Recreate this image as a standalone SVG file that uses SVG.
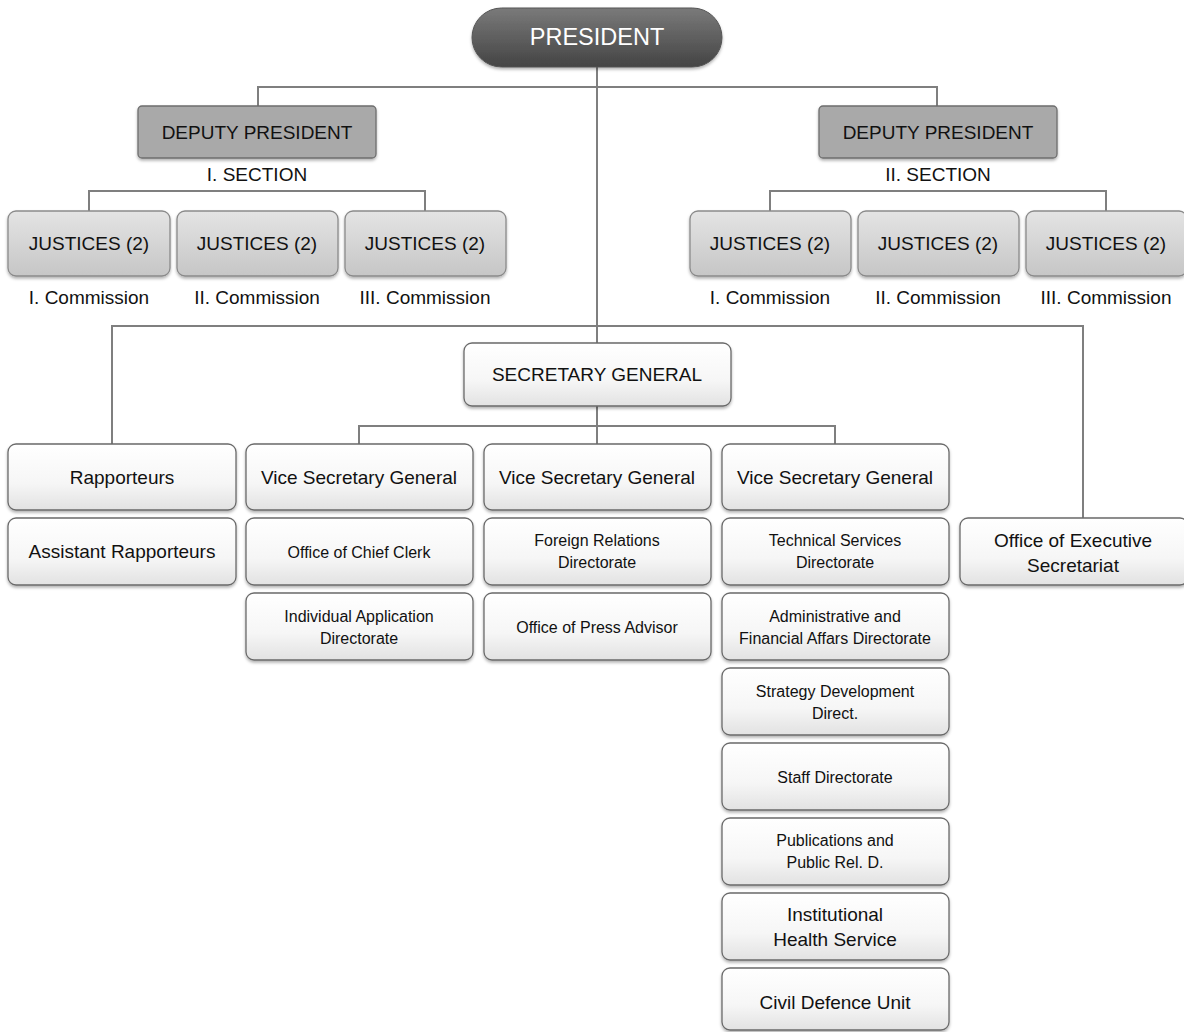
<svg xmlns="http://www.w3.org/2000/svg" width="1184" height="1032" viewBox="0 0 1184 1032">
<defs>
<linearGradient id="gW" x1="0" y1="0" x2="0" y2="1"><stop offset="0" stop-color="#ffffff"/><stop offset="0.6" stop-color="#f6f6f6"/><stop offset="1" stop-color="#e2e2e2"/></linearGradient>
<linearGradient id="gJ" x1="0" y1="0" x2="0" y2="1"><stop offset="0" stop-color="#e4e4e4"/><stop offset="1" stop-color="#c6c6c6"/></linearGradient>
<linearGradient id="gP" x1="0" y1="0" x2="0" y2="1"><stop offset="0" stop-color="#7a7a7a"/><stop offset="1" stop-color="#444444"/></linearGradient>
<filter id="sh" x="-10%" y="-10%" width="120%" height="130%"><feDropShadow dx="0" dy="2" stdDeviation="1.5" flood-color="#000" flood-opacity="0.3"/></filter>
</defs>
<style>
text{font-family:"Liberation Sans",Arial,sans-serif;text-anchor:middle;fill:#111}
.b{fill:url(#gW);stroke:#6a6a6a;stroke-width:1.3;filter:url(#sh)}
.j{fill:url(#gJ);stroke:#8a8a8a;stroke-width:1.3;filter:url(#sh)}
.d{fill:#a9a9a9;stroke:#6e6e6e;stroke-width:1.3;filter:url(#sh)}
.L{font-size:19px}
.S{font-size:16px}
.c{fill:none;stroke:#7f7f7f;stroke-width:2}
</style>
<rect width="1184" height="1032" fill="#fff"/>
<g id="connectors" class="c">
<path d="M597 67V343M258 106V87H937V106"/>
<path d="M89 211V191H425V211"/>
<path d="M770 211V191H1106V211"/>
<path d="M112 444V326H1083V518"/>
<path d="M597 406V444M359 444V426H835V444"/>
</g>
<g id="president"><rect x="472" y="8" width="250" height="59" rx="29.5" fill="url(#gP)" stroke="#555" filter="url(#sh)"/><text x="597" y="45" font-size="23.5" style="fill:#fff">PRESIDENT</text></g>
<g id="dp1"><rect class="d" x="138" y="106" width="238" height="52" rx="4"/><text class="L" x="257" y="139">DEPUTY PRESIDENT</text><text class="L" x="257" y="181">I. SECTION</text></g>
<g id="dp2"><rect class="d" x="819" y="106" width="238" height="52" rx="4"/><text class="L" x="938" y="139">DEPUTY PRESIDENT</text><text class="L" x="938" y="181">II. SECTION</text></g>
<g id="j1"><rect class="j" x="8" y="211" width="162" height="65" rx="8"/><text class="L" x="89" y="250">JUSTICES (2)</text><text class="L" x="89" y="304">I. Commission</text></g>
<g id="j2"><rect class="j" x="177" y="211" width="161" height="65" rx="8"/><text class="L" x="257" y="250">JUSTICES (2)</text><text class="L" x="257" y="304">II. Commission</text></g>
<g id="j3"><rect class="j" x="345" y="211" width="161" height="65" rx="8"/><text class="L" x="425" y="250">JUSTICES (2)</text><text class="L" x="425" y="304">III. Commission</text></g>
<g id="j4"><rect class="j" x="690" y="211" width="161" height="65" rx="8"/><text class="L" x="770" y="250">JUSTICES (2)</text><text class="L" x="770" y="304">I. Commission</text></g>
<g id="j5"><rect class="j" x="858" y="211" width="161" height="65" rx="8"/><text class="L" x="938" y="250">JUSTICES (2)</text><text class="L" x="938" y="304">II. Commission</text></g>
<g id="j6"><rect class="j" x="1026" y="211" width="161" height="65" rx="8"/><text class="L" x="1106" y="250">JUSTICES (2)</text><text class="L" x="1106" y="304">III. Commission</text></g>
<g id="sg"><rect class="b" x="464" y="343" width="267" height="63" rx="8"/><text class="L" x="597" y="381">SECRETARY GENERAL</text></g>
<g id="rap"><rect class="b" x="8" y="444" width="228" height="66" rx="8"/><text class="L" x="122" y="484">Rapporteurs</text></g>
<g id="arap"><rect class="b" x="8" y="518" width="228" height="67" rx="8"/><text class="L" x="122" y="558">Assistant Rapporteurs</text></g>
<g id="vsg1"><rect class="b" x="246" y="444" width="227" height="66" rx="8"/><text class="L" x="359" y="484">Vice Secretary General</text></g>
<g id="occ"><rect class="b" x="246" y="518" width="227" height="67" rx="8"/><text class="S" x="359" y="558">Office of Chief Clerk</text></g>
<g id="iad"><rect class="b" x="246" y="593" width="227" height="67" rx="8"/><text class="S" x="359" y="622">Individual Application</text><text class="S" x="359" y="644">Directorate</text></g>
<g id="vsg2"><rect class="b" x="484" y="444" width="227" height="66" rx="8"/><text class="L" x="597" y="484">Vice Secretary General</text></g>
<g id="frd"><rect class="b" x="484" y="518" width="227" height="67" rx="8"/><text class="S" x="597" y="546">Foreign Relations</text><text class="S" x="597" y="568">Directorate</text></g>
<g id="opa"><rect class="b" x="484" y="593" width="227" height="67" rx="8"/><text class="S" x="597" y="633">Office of Press Advisor</text></g>
<g id="vsg3"><rect class="b" x="722" y="444" width="227" height="66" rx="8"/><text class="L" x="835" y="484">Vice Secretary General</text></g>
<g id="tsd"><rect class="b" x="722" y="518" width="227" height="67" rx="8"/><text class="S" x="835" y="546">Technical Services</text><text class="S" x="835" y="568">Directorate</text></g>
<g id="afd"><rect class="b" x="722" y="593" width="227" height="67" rx="8"/><text class="S" x="835" y="622">Administrative and</text><text class="S" x="835" y="644">Financial Affars Directorate</text></g>
<g id="sdd"><rect class="b" x="722" y="668" width="227" height="67" rx="8"/><text class="S" x="835" y="697">Strategy Development</text><text class="S" x="835" y="719">Direct.</text></g>
<g id="std"><rect class="b" x="722" y="743" width="227" height="67" rx="8"/><text class="S" x="835" y="783">Staff Directorate</text></g>
<g id="ppr"><rect class="b" x="722" y="818" width="227" height="67" rx="8"/><text class="S" x="835" y="846">Publications and</text><text class="S" x="835" y="868">Public Rel. D.</text></g>
<g id="ihs"><rect class="b" x="722" y="893" width="227" height="67" rx="8"/><text class="L" x="835" y="921">Institutional</text><text class="L" x="835" y="946">Health Service</text></g>
<g id="cdu"><rect class="b" x="722" y="968" width="227" height="62" rx="8"/><text class="L" x="835" y="1009">Civil Defence Unit</text></g>
<g id="oes"><rect class="b" x="960" y="518" width="228" height="67" rx="8"/><text class="L" x="1073" y="547">Office of Executive</text><text class="L" x="1073" y="572">Secretariat</text></g>
</svg>
